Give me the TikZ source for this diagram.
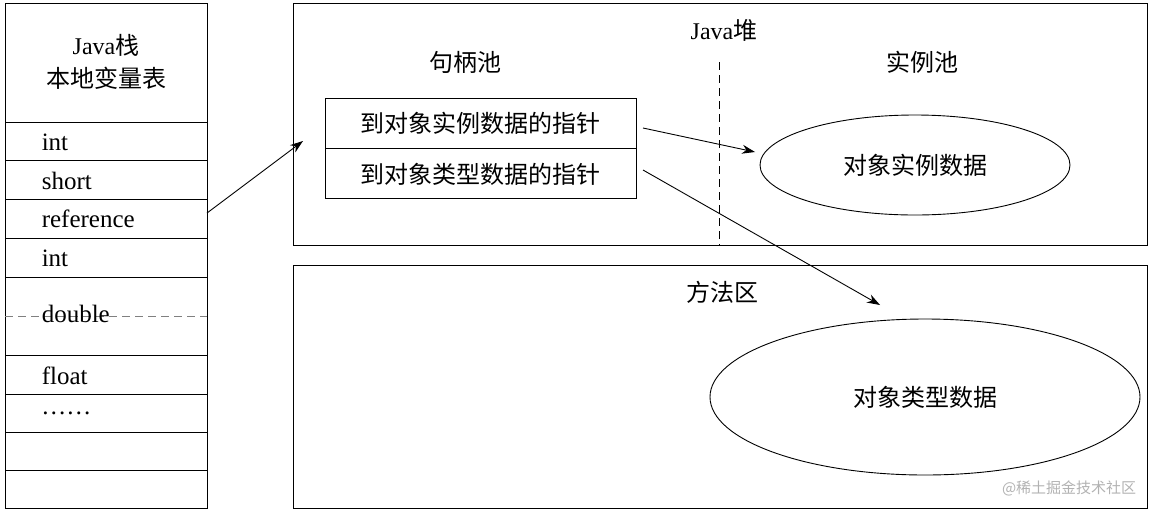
\documentclass[tikz,border=0pt]{standalone}
\usepackage{fontspec}
\setmainfont{Liberation Serif}
\newfontfamily\cjk{Noto Sans CJK SC}
\usetikzlibrary{arrows.meta,shapes.geometric}
\begin{document}
\begin{tikzpicture}[x=1pt,y=-1pt,
  lbl/.style={font=\fontsize{24}{26}\selectfont},
  cl/.style={font=\cjk\fontsize{24}{26}\selectfont},
  row/.style={font=\fontsize{25}{26}\selectfont,anchor=west},
  arr/.style={-{Stealth[length=13pt,width=9pt]},line width=0.9pt}]
\useasboundingbox (0,0) rectangle (1150,512);
\tikzset{every path/.style={line width=0.9pt}}
% stack
\draw (5,3) rectangle (207,508);
\node[lbl] (h1) at (106,45) {Java{\cjk 栈}};
\node[cl] (h2) at (106,78) {本地变量表};
\foreach \y in {122,160,199,238,277,355,394,432,470} \draw (5,\y) -- (207,\y);
\draw[dash pattern=on 8pt off 5pt,gray] (5,316) -- (207,316);
\node[row] (r1) at (38,142) {int};
\node[row] (r2) at (38,181) {short};
\node[row] (r3) at (38,219) {reference};
\node[row] (r4) at (38,258) {int};
\node[row] (r5) at (38,314) {double};
\node[row] (r6) at (38,376) {float};
\node[row,inner sep=1pt] (r7) at (40,413) {……};
% heap
\draw (293,3) rectangle (1147,245);
\node[lbl] (heap) at (724,30) {Java{\cjk 堆}};
\draw[dash pattern=on 8pt off 5pt] (719,62) -- (719,245);
\node[cl] (hp) at (465,62) {句柄池};
\node[cl] (ip) at (922,62) {实例池};
\draw (325,98) rectangle (636,198);
\draw (325,148) -- (636,148);
\node[cl] (p1) at (480,123) {到对象实例数据的指针};
\node[cl] (p2) at (480,174) {到对象类型数据的指针};
\node[draw,ellipse,minimum width=310,minimum height=100,cl] (e1) at (915,165) {对象实例数据};
% method area
\draw (293,265) rectangle (1147,508);
\node[cl] (ma) at (722,292) {方法区};
\node[draw,ellipse,minimum width=430,minimum height=156,cl] (e2) at (925,397) {对象类型数据};
% arrows
\coordinate (a1s) at (207,213); \coordinate (a1e) at (303,141);
\draw[arr] (a1s) -- (a1e);
\coordinate (a2s) at (643,128); \coordinate (a2e) at (755,152);
\draw[arr] (a2s) -- (a2e);
\coordinate (a3s) at (643,170); \coordinate (a3e) at (880,305);
\draw[arr] (a3s) -- (a3e);
\node[font=\cjk\fontsize{15}{16}\selectfont,text=gray!60,anchor=east] (wm) at (1140,488) {@稀土掘金技术社区};
\end{tikzpicture}
\end{document}
